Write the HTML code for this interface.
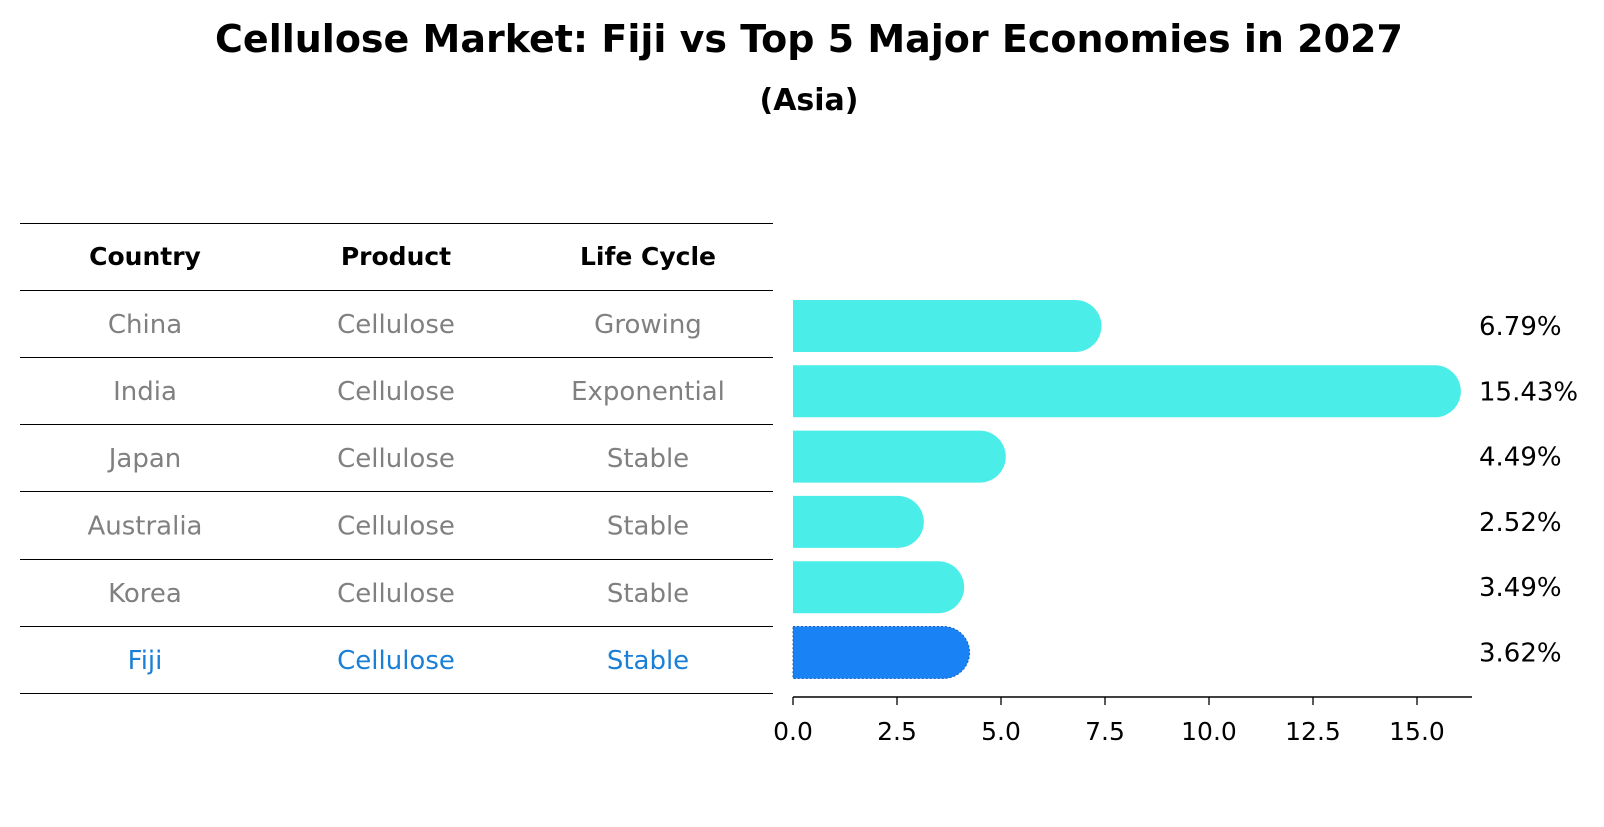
<!DOCTYPE html>
<html><head><meta charset="utf-8"><style>
body{margin:0;background:#fff;width:1604px;height:823px;overflow:hidden;font-family:"DejaVu Sans","Liberation Sans",sans-serif}
</style></head><body>
<svg width="1604" height="823" xmlns="http://www.w3.org/2000/svg">
<text x="809" y="52" text-anchor="middle" font-size="38" font-weight="bold">Cellulose Market: Fiji vs Top 5 Major Economies in 2027</text>
<text x="809" y="110" text-anchor="middle" font-size="30" font-weight="bold">(Asia)</text>
<g id="table"></g>
<g id="bars"></g>
</svg>
<script>
const countries=["China","India","Japan","Australia","Korea","Fiji"];
const products=["Cellulose","Cellulose","Cellulose","Cellulose","Cellulose","Cellulose"];
const lifeCycles=["Growing","Exponential","Stable","Stable","Stable","Stable"];
const values=[6.79,15.43,4.49,2.52,3.49,3.62];
const ticks=[0,2.5,5,7.5,10,12.5,15];
const NS="http://www.w3.org/2000/svg";
function mk(t,a,p){const e=document.createElementNS(NS,t);for(const k in a)e.setAttribute(k,a[k]);p.appendChild(e);return e;}
const tbl=document.getElementById('table'),bars=document.getElementById('bars');
const lineYs=[223.5,290.5,357.5,424.5,491.5,559.5,626.5,693.5];
const colX=[145,396,648];
lineYs.forEach((y,i)=>{const l=mk('line',{x1:20,x2:773,y1:y,y2:y,stroke:'#000','stroke-width':1},tbl);

});
["Country","Product","Life Cycle"].forEach((h,j)=>{const t=mk('text',{x:colX[j],y:265,'text-anchor':'middle','font-size':25,'font-weight':'bold'},tbl);t.textContent=h;

});
countries.forEach((c,i)=>{const y=(lineYs[i+1]+lineYs[i+2])/2+9;const col=i===5?'#1a7fd6':'#808080';
[c,products[i],lifeCycles[i]].forEach((v,j)=>{const t=mk('text',{x:colX[j],y:y,'text-anchor':'middle','font-size':26,fill:col},tbl);t.textContent=v;

});});
const x0=793,ppu=41.6,xs=v=>x0+v*ppu;
const c0=326,pitch=65.3,bh=52,r=26;
values.forEach((v,i)=>{const cy=c0+i*pitch,xe=xs(v);const fill=i===5?'#1982f4':'#4bede8';
const p=mk('path',{d:`M${x0},${cy-bh/2} H${xe} A${r},${r} 0 0 1 ${xe},${cy+bh/2} H${x0} Z`,fill:fill},bars);
if(i===5){p.setAttribute('stroke','#1565c0');p.setAttribute('stroke-dasharray','2,2');p.setAttribute('stroke-width','1');}


const t=mk('text',{x:1479,y:cy+9,'font-size':26},bars);t.textContent=v.toFixed(2)+'%';

});
const ax=mk('line',{x1:x0,x2:1472,y1:697,y2:697,stroke:'#000','stroke-width':1.5},bars);


ticks.forEach(v=>{const tl=mk('line',{x1:xs(v),x2:xs(v),y1:697,y2:705,stroke:'#000','stroke-width':1.3},bars);


const t=mk('text',{x:xs(v),y:740,'text-anchor':'middle','font-size':25},bars);t.textContent=v.toFixed(1);

});
</script>
</body></html>
